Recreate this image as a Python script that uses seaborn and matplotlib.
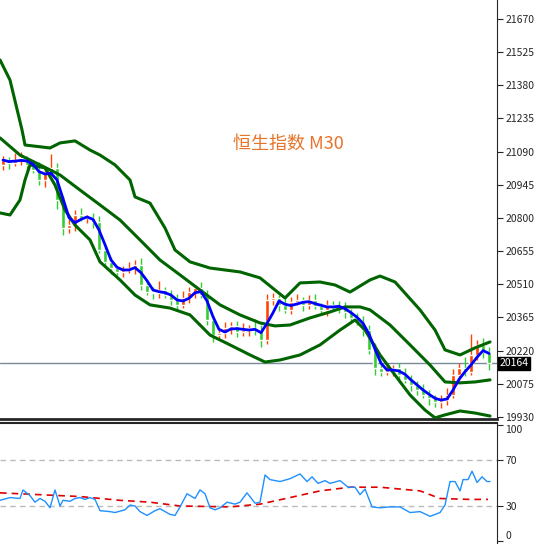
import numpy as np
import pandas as pd
import matplotlib
matplotlib.use('Agg')
import matplotlib.pyplot as plt
import seaborn as sns

# closes of the M30 candles
closes = [21053, 21040, 21053, 21062, 21032, 21010, 20966, 21001, 21019, 20879,
          20756, 20769, 20813, 20800, 20800, 20782, 20660, 20608, 20581, 20564,
          20573, 20581, 20594, 20507, 20476, 20472, 20485, 20463, 20441, 20420,
          20450, 20476, 20494, 20463, 20354, 20288, 20297, 20319, 20328, 20301,
          20310, 20319, 20310, 20266, 20441, 20450, 20420, 20398, 20433, 20441,
          20420, 20441, 20415, 20398, 20420, 20415, 20406, 20389, 20363, 20345,
          20310, 20223, 20144, 20127, 20135, 20144, 20113, 20092, 20070, 20048,
          20026, 20013, 19995, 20004, 20026, 20113, 20144, 20127, 20201, 20245,
          20214, 20164]
first_open = 21030
hi_wick = [20, 15, 30, 25, 10, 20, 35, 15, 60, 20, 15, 25, 20, 30, 15, 20, 25, 15, 20, 10,
           15, 25, 20, 30, 15, 20, 40, 15, 20, 25, 30, 20, 15, 25, 20, 15, 20, 25, 15, 20,
           30, 15, 40, 20, 25, 20, 15, 30, 20, 25, 15, 20, 25, 15, 20, 15, 20, 25, 15, 20,
           25, 20, 30, 20, 25, 15, 20, 30, 20, 15, 25, 20, 15, 20, 30, 25, 20, 50, 90, 20,
           30, 20]
lo_wick = [20, 25, 15, 20, 25, 15, 20, 30, 15, 40, 30, 20, 25, 15, 20, 25, 15, 20, 25, 15,
           20, 15, 25, 20, 15, 25, 20, 15, 20, 25, 15, 20, 25, 15, 20, 30, 15, 20, 25, 20,
           15, 25, 20, 30, 15, 20, 25, 15, 20, 15, 25, 20, 15, 20, 25, 15, 20, 25, 20, 15,
           25, 20, 30, 20, 15, 25, 20, 15, 25, 20, 15, 30, 20, 25, 20, 15, 25, 20, 15, 20,
           25, 30]

# bollinger bands, sampled along the chart width
up_x = [0, 10, 22, 25, 50, 60, 75, 90, 100, 115, 130, 135, 150, 165, 175, 190, 210, 240,
        260, 275, 285, 300, 320, 335, 350, 370, 380, 395, 420, 435, 445, 460, 475, 490]
up_y = [21491, 21403, 21185, 21119, 21106, 21128, 21137, 21097, 21075, 21032, 20966,
        20892, 20865, 20756, 20660, 20608, 20581, 20564, 20538, 20485, 20450, 20516,
        20520, 20507, 20476, 20529, 20546, 20520, 20398, 20310, 20223, 20201, 20232, 20258]
mid_x = [0, 20, 40, 60, 80, 100, 120, 140, 160, 180, 200, 220, 240, 260, 275, 290, 310,
         330, 345, 360, 370, 390, 410, 430, 445, 460, 475, 490]
mid_y = [21150, 21075, 21032, 20988, 20922, 20857, 20791, 20704, 20616, 20551, 20485,
         20420, 20376, 20341, 20328, 20332, 20363, 20389, 20411, 20411, 20398, 20332,
         20245, 20157, 20083, 20079, 20083, 20092]
low_x = [0, 10, 20, 25, 30, 45, 55, 65, 75, 90, 100, 120, 135, 150, 170, 190, 210, 230,
         250, 265, 280, 300, 320, 340, 355, 365, 380, 395, 410, 425, 435, 445, 460, 475, 490]
low_y = [20822, 20813, 20879, 20966, 21032, 21019, 20944, 20835, 20769, 20704, 20608,
         20529, 20463, 20420, 20406, 20376, 20288, 20245, 20201, 20170, 20179, 20201,
         20245, 20310, 20354, 20310, 20201, 20113, 20026, 19960, 19926, 19939, 19956,
         19947, 19934]

# RSI and its signal line
rsi_x = [0, 10, 20, 23, 30, 35, 40, 45, 50, 55, 60, 63, 70, 75, 80, 85, 90, 95, 100, 110,
         115, 125, 130, 135, 140, 147, 155, 160, 170, 175, 180, 187, 195, 200, 205, 210,
         215, 220, 227, 235, 240, 247, 255, 260, 265, 270, 280, 290, 300, 307, 312, 318,
         325, 330, 340, 348, 355, 360, 365, 372, 380, 390, 400, 410, 420, 430, 440, 445,
         450, 455, 460, 463, 468, 472, 477, 482, 487, 490]
rsi_v = [34.9, 37.3, 36.5, 43.9, 39.0, 33.3, 36.5, 34.1, 28.4, 43.9, 30.0, 34.9, 34.1,
         36.5, 37.3, 35.7, 37.3, 35.7, 25.9, 25.1, 24.3, 26.7, 30.8, 30.0, 25.1, 21.8,
         25.9, 27.6, 22.7, 21.8, 29.2, 40.6, 36.5, 43.9, 40.6, 28.4, 26.7, 28.4, 33.3,
         31.6, 33.3, 41.4, 32.4, 33.3, 56.9, 52.9, 51.2, 53.7, 57.8, 51.2, 55.3, 49.6,
         52.0, 49.6, 52.0, 46.3, 46.3, 39.8, 44.7, 29.2, 28.4, 29.2, 29.2, 24.3, 25.1,
         21.0, 24.3, 30.8, 51.2, 51.2, 43.1, 52.9, 52.9, 60.2, 50.4, 55.3, 51.2, 51.2]
sig_x = [0, 40, 80, 120, 150, 180, 230, 260, 290, 320, 350, 380, 420, 440, 470, 488]
sig_v = [41.4, 39.8, 38.2, 34.9, 33.3, 30.0, 29.2, 31.6, 37.3, 43.1, 46.3, 46.3, 43.1,
         36.5, 35.7, 35.7]

price_ticks = [19930, 20075, 20220, 20365, 20510, 20655, 20800, 20945, 21090, 21235,
               21380, 21525, 21670]
last_price = 20164

sns.set_style('white')
plt.rcParams['font.family'] = ['Noto Sans CJK SC', 'DejaVu Sans']

df = pd.DataFrame({'close': closes})
df['open'] = df['close'].shift(1).fillna(first_open)
df['high'] = df[['open', 'close']].max(axis=1) + hi_wick
df['low'] = df[['open', 'close']].min(axis=1) - lo_wick
df['x'] = 3 + 6 * np.arange(len(df))
df['ma'] = df['close'].rolling(3, min_periods=1).mean()

fig = plt.figure(figsize=(5.45, 5.44), dpi=100)
ax = fig.add_axes([0, 0.2298, 0.912, 0.7702])
ax2 = fig.add_axes([0, 0, 0.912, 0.2224])

red, green = '#ff4500', '#32cd32'
cols = np.where(df['close'] >= df['open'], red, green)
ax.vlines(df['x'], df['low'], df['high'], colors=cols, lw=1, zorder=2)
body = (df['close'] - df['open']).abs().clip(lower=4)
ax.bar(df['x'], body, bottom=df[['open', 'close']].min(axis=1), width=4.5, color=cols, zorder=3)

for bx, by in [(up_x, up_y), (mid_x, mid_y), (low_x, low_y)]:
    sns.lineplot(x=bx, y=by, ax=ax, color='#006400', lw=2.2, zorder=4)
sns.lineplot(data=df, x='x', y='ma', ax=ax, color='#0000ff', lw=2, zorder=5)
ax.axhline(last_price, color='#7a8a99', lw=1, zorder=1)

ax.set_xlim(0, 497)
ax.set_ylim(19921, 21753)
ax.yaxis.tick_right()
ax.set_yticks(price_ticks)
ax.tick_params(axis='y', labelsize=7.5, length=4, direction='out', right=True, pad=2)
ax.set_xticks([])
ax.set_xlabel('')
ax.set_ylabel('')
for s in ['top', 'left']:
    ax.spines[s].set_visible(False)
ax.spines['bottom'].set_linewidth(2)
ax.text(1.005, (last_price - 19921) / (21753 - 19921), str(last_price), transform=ax.transAxes,
        fontsize=7.5, color='white', va='center', ha='left',
        bbox=dict(boxstyle='square,pad=0.15', fc='black', ec='black'))
ax.text(288, 21125, '恒生指数 M30', color='#e8742a', fontsize=13, ha='center', va='center')

ax2.axhline(70, color='#bbbbbb', lw=1, ls=(0, (4, 3)))
ax2.axhline(30, color='#bbbbbb', lw=1, ls=(0, (4, 3)))
sns.lineplot(x=sig_x, y=sig_v, ax=ax2, color='#e00000', lw=1.2, ls=(0, (4, 3)))
sns.lineplot(x=rsi_x, y=rsi_v, ax=ax2, color='#1e90ff', lw=1)
ax2.set_xlim(0, 497)
ax2.set_ylim(-3, 102)
ax2.yaxis.tick_right()
ax2.set_yticks([0, 30, 70, 100])
ax2.tick_params(axis='y', labelsize=7.5, length=4, right=True, pad=2)
labs = ax2.get_yticklabels()
labs[0].set_va('bottom')
labs[-1].set_va('top')
ax2.set_xticks([])
for s in ['bottom', 'left']:
    ax2.spines[s].set_visible(False)
ax2.spines['top'].set_linewidth(1.5)

fig.savefig('out.png', dpi=100)
